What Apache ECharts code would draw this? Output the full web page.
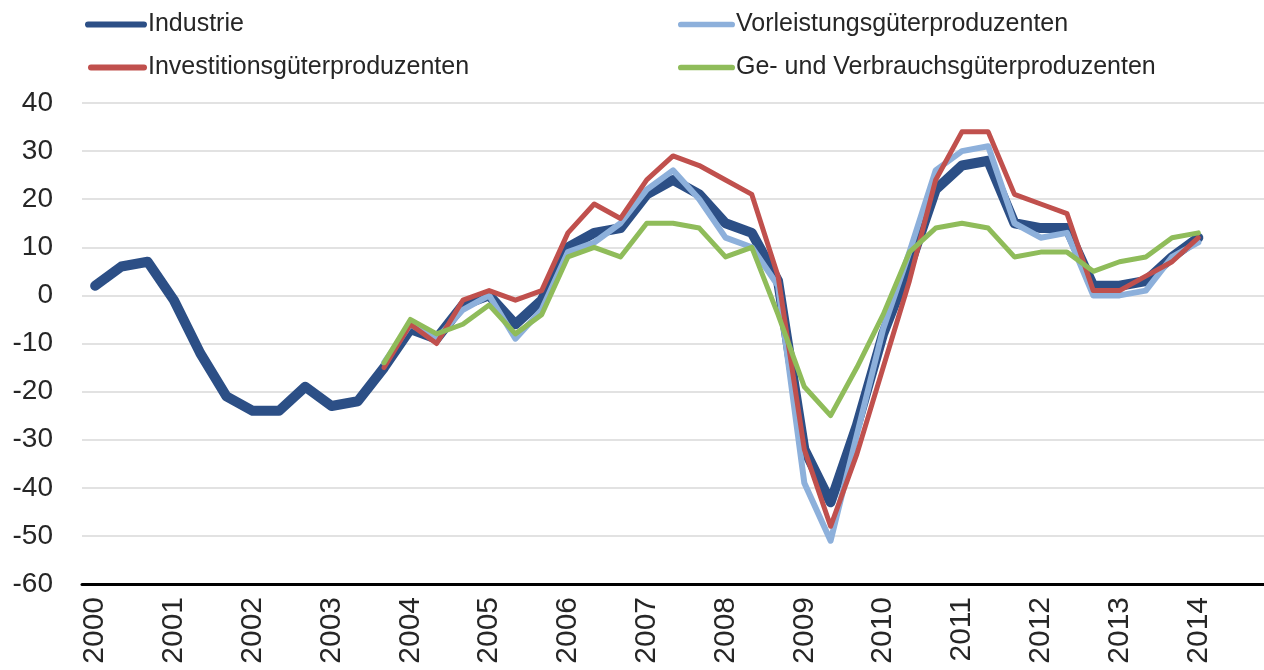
<!DOCTYPE html>
<html>
<head>
<meta charset="utf-8">
<script src="https://cdn.jsdelivr.net/npm/echarts@6/dist/echarts.min.js"></script>
<style>
  html, body { margin: 0; padding: 0; background: #fff; }
  #chart { width: 1264px; height: 670px; }
</style>
</head>
<body>
<div id="chart"></div>
<script>
// drei Werte pro Jahr, 2000 bis 2014
const years = ['2000', '2001', '2002', '2003', '2004', '2005', '2006', '2007',
  '2008', '2009', '2010', '2011', '2012', '2013', '2014']
const periods = ['T1', 'T2', 'T3']

const industrie = [2, 6, 7, -1, -12, -21, -24, -24, -19, -23, -22, -15,
  -7, -9, -2, 0, -6, -1, 10, 13, 14, 21, 24, 21, 15, 13, 3, -32, -43,
  -27, -8, 6, 22, 27, 28, 15, 14, 14, 2, 2, 3, 8, 12]

// die Teilreihen beginnen erst im dritten Abschnitt 2003
const teilStart = 11
const vorleistung = [-14, -6, -9, -3, 0, -9, -3, 9, 11, 15, 22, 26, 20,
  12, 10, 2, -39, -51, -29, -7, 9, 26, 30, 31, 15, 12, 13, 0, 0, 1, 8, 11]
const investition = [-15, -6, -10, -1, 1, -1, 1, 13, 19, 16, 24, 29, 27,
  24, 21, 4, -32, -48, -33, -15, 3, 24, 34, 34, 21, 19, 17, 1, 1, 4, 7, 12]
const verbrauch = [-14, -5, -8, -6, -2, -8, -4, 8, 10, 8, 15, 15, 14,
  8, 10, -4, -19, -25, -15, -4, 9, 14, 15, 14, 8, 9, 9, 5, 7, 8, 12, 13]

const categories = []
years.forEach(y => periods.forEach(p => categories.push(y + ' ' + p)))

const pad = arr => Array(teilStart).fill(null).concat(arr)

const fontFamily = 'Liberation Sans'
const textColor = '#262626'

// Kapsel als Legendensymbol (Linie mit runden Enden)
const capsule = 'path://M5,0 L95,0 A5,5 0 0 1 95,10 L5,10 A5,5 0 0 1 5,0 Z'

function lineSeries(name, data, color, width) {
  return {
    name,
    type: 'line',
    data,
    symbol: 'none',
    smooth: false,
    lineStyle: { color, width, cap: 'round', join: 'round' },
    itemStyle: { color },
    animation: false
  }
}

function legendAt(name, left, top, width, height) {
  return {
    data: [{ name, icon: capsule }],
    left,
    top,
    itemWidth: width,
    itemHeight: height,
    textStyle: { fontFamily, fontSize: 25, color: textColor, padding: [0, 0, 0, -4] },
    selectedMode: false
  }
}

const chart = echarts.init(document.getElementById('chart'), null, { renderer: 'canvas' })

chart.setOption({
  backgroundColor: '#fff',
  animation: false,
  legend: [
    legendAt('Industrie', 80, 7, 62, 10),
    legendAt('Vorleistungsgüterproduzenten', 673, 7, 57, 6),
    legendAt('Investitionsgüterproduzenten', 83, 50, 59, 6),
    legendAt('Ge- und Verbrauchsgüterproduzenten', 673, 50, 57, 6)
  ],
  grid: {
    left: 82,
    top: 103,
    width: 1185,
    height: 481,
    containLabel: false
  },
  xAxis: {
    type: 'category',
    data: categories,
    boundaryGap: true,
    axisLine: { show: true, onZero: false, lineStyle: { color: '#000', width: 3 } },
    axisTick: { show: false },
    axisLabel: {
      interval: 2,
      rotate: 90,
      margin: 13,
      fontFamily,
      fontSize: 30,
      color: textColor,
      formatter: v => v.slice(0, 4)
    },
    splitLine: { show: false }
  },
  yAxis: {
    type: 'value',
    min: -60,
    max: 40,
    interval: 10,
    axisLine: { show: false },
    axisTick: { show: false },
    axisLabel: { margin: 29, fontFamily, fontSize: 28, color: textColor },
    splitLine: { lineStyle: { color: '#d9d9d9', width: 1.5 } }
  },
  series: [
    lineSeries('Industrie', industrie, '#2c4f86', 10),
    lineSeries('Vorleistungsgüterproduzenten', pad(vorleistung), '#8db0db', 6),
    lineSeries('Investitionsgüterproduzenten', pad(investition), '#c0504d', 5),
    lineSeries('Ge- und Verbrauchsgüterproduzenten', pad(verbrauch), '#8fbc5a', 5)
  ]
})
</script>
</body>
</html>
